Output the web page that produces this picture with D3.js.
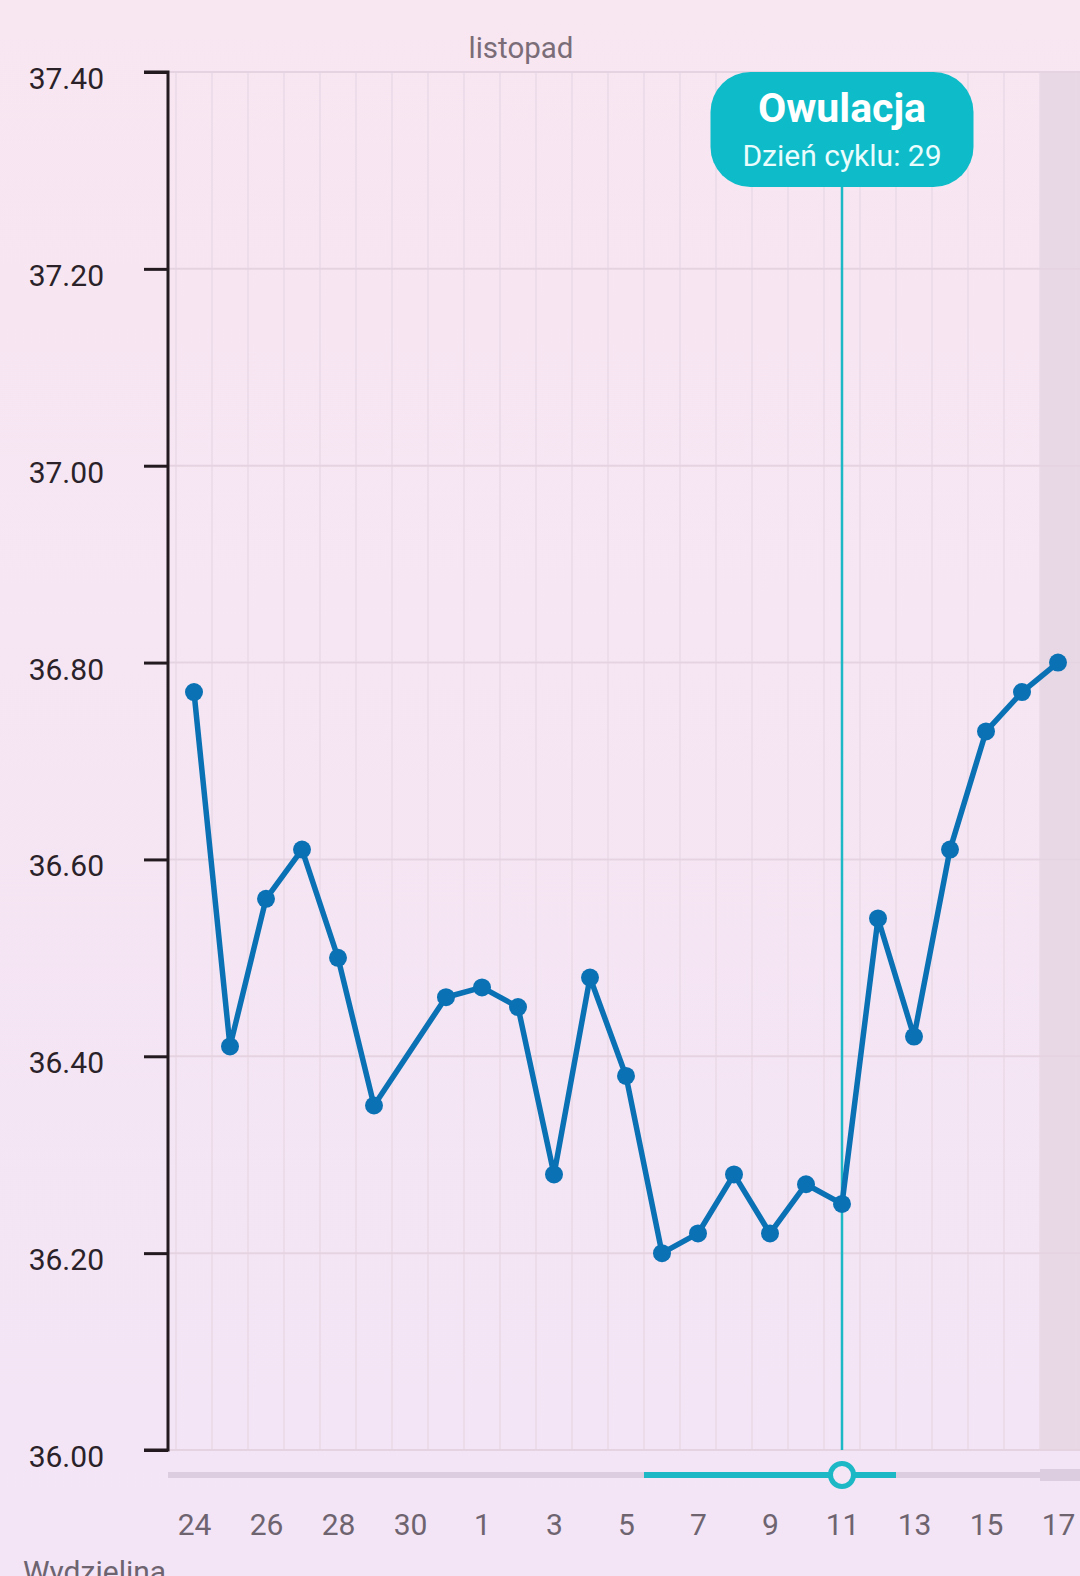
<!DOCTYPE html>
<html>
<head>
<meta charset="utf-8">
<script src="https://cdn.jsdelivr.net/npm/d3@7"></script>
<style>
  html, body { margin: 0; padding: 0; }
  body { width: 1080px; height: 1576px; overflow: hidden; font-family: Roboto, "Noto Sans", sans-serif; }
  svg { display: block; }
</style>
</head>
<body>
<svg id="chart" width="1080" height="1576"></svg>
<script>
// ---- data ----
const dayLabels = ["24","25","26","27","28","29","30","31","1","2","3","4","5","6","7","8","9","10","11","12","13","14","15","16","17"];
const temperatures = [36.77, 36.41, 36.56, 36.61, 36.50, 36.35, null, 36.46, 36.47, 36.45, 36.28, 36.48, 36.38, 36.20, 36.22, 36.28, 36.22, 36.27, 36.25, 36.54, 36.42, 36.61, 36.73, 36.77, 36.80];
const yTicks = [36.00, 36.20, 36.40, 36.60, 36.80, 37.00, 37.20, 37.40];
const xTickLabels = ["24","26","28","30","1","3","5","7","9","11","13","15","17"];
const monthLabel = "listopad";
const ovulationDay = "11";      // 11 listopad
const cycleDayText = "Dzień cyklu: 29";
const ovulationTitle = "Owulacja";
const fertileStart = "6", fertileEnd = "12";
const todayLabel = "17";
const bottomLabel = "Wydzielina";

// ---- layout ----
const svg = d3.select("#chart");
const W = 1080, H = 1576;
const plotLeft = 168, plotTop = 72, plotBottom = 1450;

// background gradient
const defs = svg.append("defs");
const grad = defs.append("linearGradient").attr("id", "bg").attr("x1", 0).attr("y1", 0).attr("x2", 0).attr("y2", 1);
grad.append("stop").attr("offset", "0%").attr("stop-color", "#f8e6f1");
grad.append("stop").attr("offset", "100%").attr("stop-color", "#f3e5f6");
svg.append("rect").attr("width", W).attr("height", H).attr("fill", "url(#bg)");

const x = d3.scaleLinear().domain([0, dayLabels.length - 1]).range([194, 1058]);
const step = x(1) - x(0);
const y = d3.scaleLinear().domain([36.0, 37.4]).range([plotBottom, plotTop]);
const idxNov = l => { for (let i = 8; i < dayLabels.length; i++) if (dayLabels[i] === l) return i; return dayLabels.indexOf(l); };

// today shading
svg.append("rect")
  .attr("x", x(idxNov(todayLabel)) - step / 2).attr("y", plotTop)
  .attr("width", W - (x(idxNov(todayLabel)) - step / 2)).attr("height", plotBottom - plotTop)
  .attr("fill", "#e8d8e6");

// vertical grid (day boundaries)
const bounds = d3.range(-0.5, dayLabels.length + 0.5, 1);
svg.append("g").selectAll("line").data(bounds).join("line")
  .attr("x1", d => x(d)).attr("x2", d => x(d))
  .attr("y1", plotTop).attr("y2", plotBottom)
  .attr("stroke", "#ead8e6").attr("stroke-width", 1.5);

// horizontal grid
svg.append("g").selectAll("line").data(yTicks).join("line")
  .attr("x1", plotLeft).attr("x2", W)
  .attr("y1", d => y(d)).attr("y2", d => y(d))
  .attr("stroke", "#e6d3e1").attr("stroke-width", 2);

// y axis
const yAxis = d3.axisLeft(y).tickValues(yTicks).tickFormat(d3.format(".2f")).tickSize(24).tickPadding(40);
const gy = svg.append("g").attr("transform", `translate(${plotLeft},0)`).call(yAxis);
gy.select(".domain").attr("stroke", "#231a20").attr("stroke-width", 3).attr("d", `M-24,${plotTop}H0V${plotBottom}H-24`);
gy.selectAll(".tick line").attr("stroke", "#231a20").attr("stroke-width", 3);
gy.selectAll(".tick text").attr("fill", "#2a2228").attr("font-size", 30).attr("font-family", "Roboto").attr("dy", "0.55em");

// month label
svg.append("text").attr("x", 521).attr("y", 58).attr("text-anchor", "middle")
  .attr("font-size", 29.5).attr("font-family", "Roboto").attr("fill", "#7a6d78").text(monthLabel);

// slider track
const trackY = 1475;
svg.append("line").attr("x1", plotLeft).attr("x2", W).attr("y1", trackY).attr("y2", trackY)
  .attr("stroke", "#dccde0").attr("stroke-width", 6);
svg.append("line").attr("x1", x(idxNov(todayLabel)) - step / 2).attr("x2", W).attr("y1", trackY).attr("y2", trackY)
  .attr("stroke", "#ddcde0").attr("stroke-width", 12);
svg.append("line")
  .attr("x1", x(idxNov(fertileStart)) - step / 2).attr("x2", x(idxNov(fertileEnd)) + step / 2)
  .attr("y1", trackY).attr("y2", trackY)
  .attr("stroke", "#1cb8c6").attr("stroke-width", 6);

// ovulation line
const ox = x(idxNov(ovulationDay));
svg.append("line").attr("x1", ox).attr("x2", ox).attr("y1", 186).attr("y2", plotBottom)
  .attr("stroke", "#1cb8c6").attr("stroke-width", 2.5);
svg.append("circle").attr("cx", ox).attr("cy", trackY).attr("r", 11.5)
  .attr("fill", "#f4e6f5").attr("stroke", "#1cb8c6").attr("stroke-width", 5);

// temperature line + dots
const pts = temperatures.map((v, i) => ({ i, v })).filter(d => d.v !== null);
svg.append("path").datum(pts)
  .attr("d", d3.line().x(d => x(d.i)).y(d => y(d.v)))
  .attr("fill", "none").attr("stroke", "#0a72b4").attr("stroke-width", 5.5).attr("stroke-linejoin", "round");
svg.append("g").selectAll("circle").data(pts).join("circle")
  .attr("cx", d => x(d.i)).attr("cy", d => y(d.v)).attr("r", 9).attr("fill", "#0a72b4");

// tooltip
const tw = 263, th = 115;
svg.append("rect").attr("x", ox - tw / 2).attr("y", 72).attr("width", tw).attr("height", th)
  .attr("rx", 40).attr("ry", 40).attr("fill", "#0dbcc8");
svg.append("text").attr("x", ox).attr("y", 122).attr("text-anchor", "middle")
  .attr("font-size", 41).attr("font-weight", "bold").attr("font-family", "Roboto").attr("fill", "#ffffff").text(ovulationTitle);
svg.append("text").attr("x", ox).attr("y", 166).attr("text-anchor", "middle")
  .attr("font-size", 30).attr("font-family", "Roboto").attr("fill", "#eafcfd").text(cycleDayText);

// x axis labels
const xTickIdx = [];
for (let i = 0; i < dayLabels.length; i++) {
  if (xTickLabels.includes(dayLabels[i]) && i % 2 === 0) xTickIdx.push(i);
}
const xAxis = d3.axisBottom(x).tickValues(xTickIdx).tickFormat(i => dayLabels[i]).tickSize(0).tickPadding(64);
const gx = svg.append("g").attr("transform", `translate(0,${plotBottom})`).call(xAxis);
gx.select(".domain").remove();
gx.selectAll(".tick text").attr("fill", "#6e6470").attr("font-size", 30).attr("font-family", "Roboto");

// bottom label (partially below the visible area, as in the original screenshot)
svg.append("text").attr("x", 23).attr("y", 1582).attr("font-size", 30).attr("font-family", "Roboto")
  .attr("fill", "#6e6470").text(bottomLabel);
</script>
</body>
</html>
